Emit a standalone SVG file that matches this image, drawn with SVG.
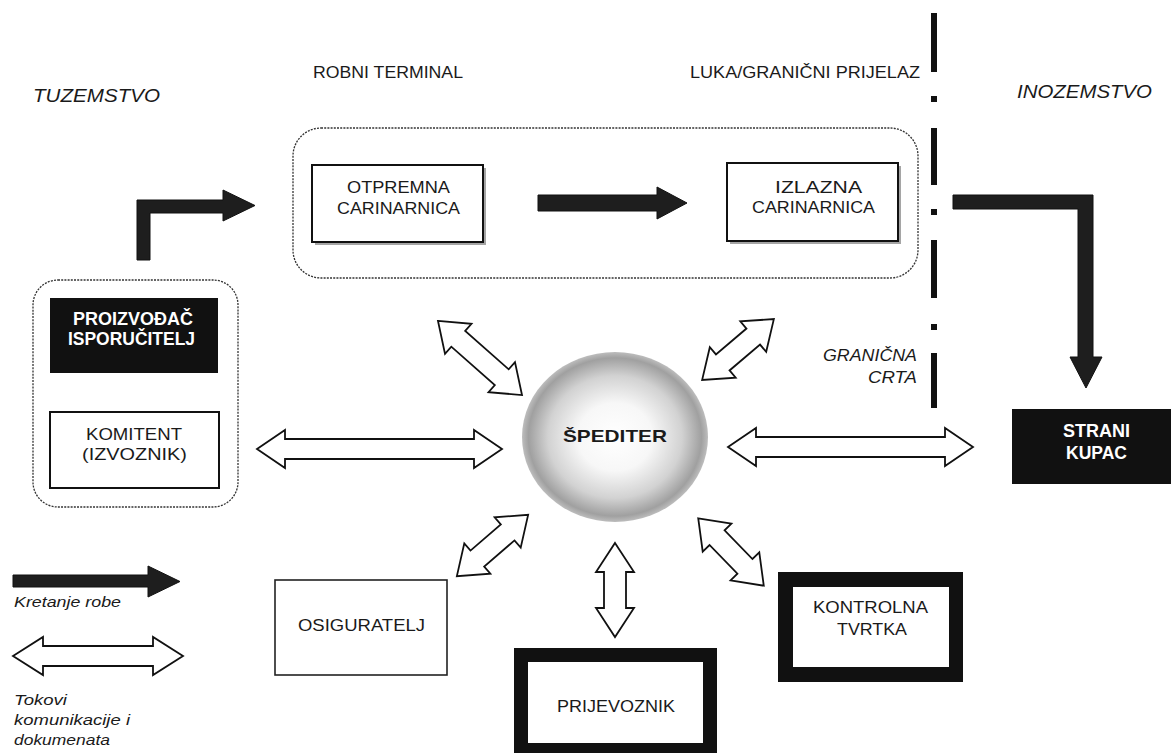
<svg xmlns="http://www.w3.org/2000/svg" width="1173" height="753" viewBox="0 0 1173 753">
<defs>
<radialGradient id="sphere" cx="50%" cy="50%" r="50%">
<stop offset="0" stop-color="#ffffff"/>
<stop offset="0.4" stop-color="#f7f7f7"/>
<stop offset="0.72" stop-color="#d2d2d2"/>
<stop offset="0.93" stop-color="#a0a0a0"/>
<stop offset="1" stop-color="#bdbdbd"/>
</radialGradient>
<style>
.t{font-family:"Liberation Sans",Arial,sans-serif;fill:#1a1a1a;font-size:17px}
.ti{font-family:"Liberation Sans",Arial,sans-serif;fill:#1a1a1a;font-style:italic}
.tw{font-family:"Liberation Sans",Arial,sans-serif;fill:#ffffff;font-weight:bold;font-size:17.5px}
.c{text-anchor:middle}
.group{fill:none;stroke:#333;stroke-width:1.3;stroke-dasharray:2 1.2}
.box{fill:#fff;stroke:#111;stroke-width:2}
.shadow{fill:#a5a5a5}
.blk{fill:#111}
.goods{fill:#1e1e1e;stroke:#111;stroke-width:1}
.comm{fill:#fff;stroke:#111;stroke-width:1.8;stroke-linejoin:miter}
.border{fill:#111}
</style>
</defs>
<rect width="1173" height="753" fill="#fff"/>

<g id="labels">
<text class="ti" x="33" y="102" font-size="19" textLength="127" lengthAdjust="spacingAndGlyphs">TUZEMSTVO</text>
<text class="ti" x="1017" y="98" font-size="19" textLength="135" lengthAdjust="spacingAndGlyphs">INOZEMSTVO</text>
<text class="t" x="313" y="78" font-size="16" textLength="150" lengthAdjust="spacingAndGlyphs">ROBNI TERMINAL</text>
<text class="t" x="690" y="78" font-size="16" textLength="230" lengthAdjust="spacingAndGlyphs">LUKA/GRANIČNI PRIJELAZ</text>
<text class="ti" x="823" y="361" font-size="16" textLength="94" lengthAdjust="spacingAndGlyphs">GRANIČNA</text>
<text class="ti" x="868" y="383" font-size="16" textLength="49" lengthAdjust="spacingAndGlyphs">CRTA</text>
</g>

<g id="border-line">
<rect class="border" x="931" y="13" width="6" height="59"/>
<rect class="border" x="931" y="96" width="6" height="6"/>
<rect class="border" x="931" y="128" width="6" height="57"/>
<rect class="border" x="931" y="209" width="6" height="6"/>
<rect class="border" x="931" y="240" width="6" height="58"/>
<rect class="border" x="931" y="324" width="6" height="6"/>
<rect class="border" x="931" y="353" width="6" height="55"/>
</g>

<g id="robni-terminal">
<rect class="group" x="293" y="128" width="625" height="150" rx="28"/>
</g>

<g id="tuzemstvo-group">
<rect class="group" x="33" y="280" width="205" height="227" rx="25"/>
</g>

<g id="otpremna">
<rect class="shadow" x="315" y="168" width="171" height="77"/>
<rect class="box" x="312" y="165" width="171" height="77"/>
<text class="t c" x="398.5" y="193" textLength="103" lengthAdjust="spacingAndGlyphs">OTPREMNA</text>
<text class="t c" x="398.5" y="214" textLength="123" lengthAdjust="spacingAndGlyphs">CARINARNICA</text>
</g>

<g id="izlazna">
<rect class="shadow" x="730" y="166" width="171" height="78"/>
<rect class="box" x="727" y="163" width="171" height="78"/>
<text class="t c" x="818.5" y="193" textLength="87" lengthAdjust="spacingAndGlyphs">IZLAZNA</text>
<text class="t c" x="813.5" y="213" textLength="123" lengthAdjust="spacingAndGlyphs">CARINARNICA</text>
</g>

<g id="proizvodac">
<rect class="blk" x="50" y="298" width="168" height="75"/>
<text class="tw c" x="133" y="325" textLength="120" lengthAdjust="spacingAndGlyphs">PROIZVOĐAČ</text>
<text class="tw c" x="131.5" y="345" textLength="127" lengthAdjust="spacingAndGlyphs">ISPORUČITELJ</text>
</g>

<g id="komitent">
<rect class="box" x="50" y="412" width="169" height="76"/>
<text class="t c" x="134" y="440" textLength="96" lengthAdjust="spacingAndGlyphs">KOMITENT</text>
<text class="t c" x="134.5" y="460" textLength="105" lengthAdjust="spacingAndGlyphs">(IZVOZNIK)</text>
</g>

<g id="spediter">
<ellipse cx="615" cy="437" rx="93" ry="85" fill="url(#sphere)"/>
<text class="t c" x="615" y="442" font-size="18" font-weight="bold" textLength="104" lengthAdjust="spacingAndGlyphs">ŠPEDITER</text>
</g>

<g id="strani-kupac">
<rect class="blk" x="1012" y="409" width="159" height="75"/>
<text class="tw c" x="1096.5" y="437" textLength="67" lengthAdjust="spacingAndGlyphs">STRANI</text>
<text class="tw c" x="1096.5" y="459" textLength="61" lengthAdjust="spacingAndGlyphs">KUPAC</text>
</g>

<g id="osiguratelj">
<rect x="275" y="580" width="172" height="95" fill="#fff" stroke="#222" stroke-width="1.6"/>
<text class="t c" x="361.5" y="631" textLength="127" lengthAdjust="spacingAndGlyphs">OSIGURATELJ</text>
</g>

<g id="prijevoznik">
<rect class="blk" x="514" y="648" width="203" height="105"/>
<rect fill="#fff" x="528" y="662" width="175" height="81"/>
<text class="t c" x="616" y="712" textLength="118" lengthAdjust="spacingAndGlyphs">PRIJEVOZNIK</text>
</g>

<g id="kontrolna">
<rect class="blk" x="778" y="572" width="185" height="110"/>
<rect fill="#fff" x="793" y="587" width="156" height="80"/>
<text class="t c" x="870.5" y="613" textLength="115" lengthAdjust="spacingAndGlyphs">KONTROLNA</text>
<text class="t c" x="872" y="635" textLength="70" lengthAdjust="spacingAndGlyphs">TVRTKA</text>
</g>

<g id="connectors">
<polygon class="goods" points="137,260 137,200 223,200 223,190 255,205.5 223,221 223,213 150,213 150,260"/>
<polygon class="goods" points="538,195 657,195 657,187 687,203 657,219 657,211 538,211"/>
<polygon class="goods" points="953,195 1093,195 1093,357 1102,357 1086,388 1070,357 1078,357 1078,209 953,209"/>
<polygon class="comm" transform="translate(379.5,449)" points="-122.5,0 -94.5,-19 -94.5,-10 94.5,-10 94.5,-19 122.5,0 94.5,19 94.5,10 -94.5,10 -94.5,19"/>
<polygon class="comm" transform="translate(850.5,447)" points="-122.5,0 -94.5,-19 -94.5,-10 94.5,-10 94.5,-19 122.5,0 94.5,19 94.5,10 -94.5,10 -94.5,19"/>
<polygon class="comm" transform="translate(480,358) rotate(41.4)" points="-56,0 -29,-20 -29,-10.5 29,-10.5 29,-20 56,0 29,20 29,10.5 -29,10.5 -29,20"/>
<polygon class="comm" transform="translate(738,349.5) rotate(-40.3)" points="-47,0 -20,-20 -20,-10.5 20,-10.5 20,-20 47,0 20,20 20,10.5 -20,10.5 -20,20"/>
<polygon class="comm" transform="translate(492.5,545.5) rotate(-40.7)" points="-47,0 -20,-20 -20,-10.5 20,-10.5 20,-20 47,0 20,20 20,10.5 -20,10.5 -20,20"/>
<polygon class="comm" transform="translate(731,552) rotate(45.8)" points="-47,0 -20,-20 -20,-10.5 20,-10.5 20,-20 47,0 20,20 20,10.5 -20,10.5 -20,20"/>
<polygon class="comm" transform="translate(615,590) rotate(90)" points="-47,0 -18,-19 -18,-11 18,-11 18,-19 47,0 18,19 18,11 -18,11 -18,19"/>
</g>

<g id="legend">
<polygon class="goods" points="13,575 148,575 148,566 180,581.5 148,597 148,587 13,587"/>
<text class="ti" x="14" y="607" font-size="15" textLength="107" lengthAdjust="spacingAndGlyphs">Kretanje robe</text>
<polygon class="comm" transform="translate(98,656)" points="-85,0 -55,-19 -55,-10 55,-10 55,-19 85,0 55,19 55,10 -55,10 -55,19"/>
<text class="ti" x="14" y="705" font-size="15" textLength="53" lengthAdjust="spacingAndGlyphs">Tokovi</text>
<text class="ti" x="14" y="725" font-size="15" textLength="116" lengthAdjust="spacingAndGlyphs">komunikacije i</text>
<text class="ti" x="14" y="745" font-size="15" textLength="96" lengthAdjust="spacingAndGlyphs">dokumenata</text>
</g>
</svg>
